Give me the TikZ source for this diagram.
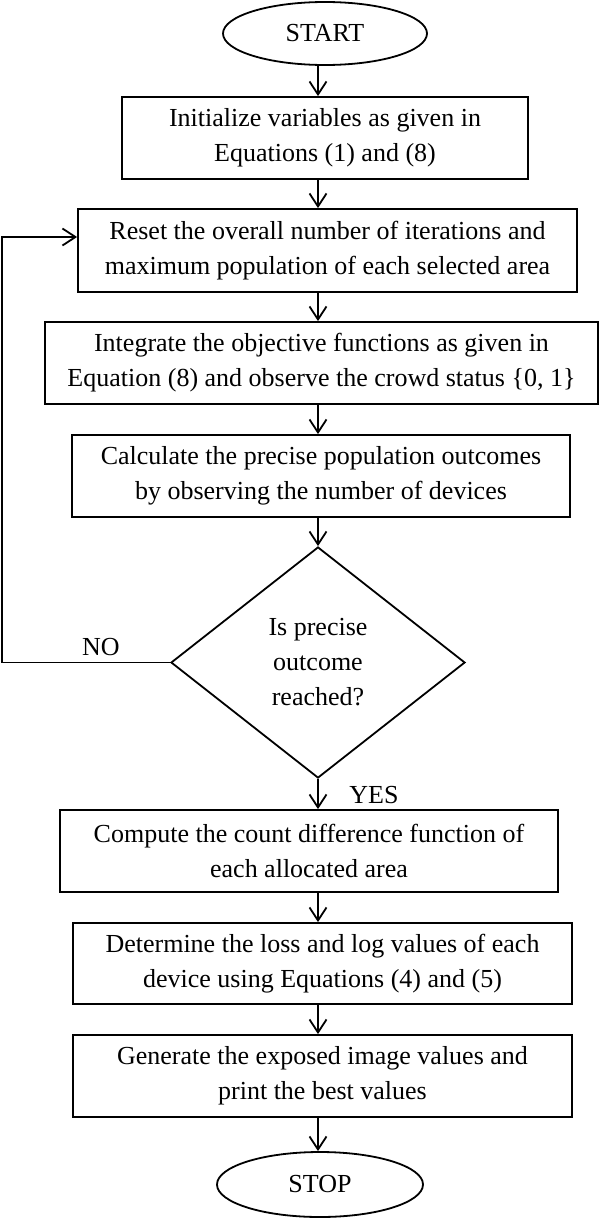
\documentclass[tikz,border=0pt]{standalone}
\usepackage{fontspec}
\setmainfont{Liberation Serif}
\usetikzlibrary{shapes.geometric,arrows.meta}

\begin{document}
\begin{tikzpicture}[x=1pt, y=-1pt,
    every node/.style={font=\fontsize{26}{35}\selectfont},
    procbox/.style={rectangle, draw, line width=1.8pt, align=center, inner sep=0pt},
    terminal/.style={ellipse, draw, line width=1.8pt, inner sep=0pt},
    decision/.style={diamond, draw, line width=1.8pt, align=center, inner sep=0pt},
    flowarrow/.style={line width=1.8pt, -{Straight Barb[length=13pt, width=17pt, line width=1.8pt]}}]
    \useasboundingbox (0,0) rectangle (600,1218);
    \coordinate (axis) at (318,0);
    \coordinate (loop) at (2,237);

    \node[terminal, minimum width=204pt, minimum height=63pt] (start) at (325,33.5) {START};
    \node[procbox, minimum width=406pt, minimum height=82pt] (init) at (325,138) {Initialize variables as given in\\Equations (1) and (8)};
    \node[procbox, minimum width=499pt, minimum height=83pt] (reset) at (327.5,250.5) {Reset the overall number of iterations and\\maximum population of each selected area};
    \node[procbox, minimum width=553pt, minimum height=82pt] (integrate) at (321.5,363) {Integrate the objective functions as given in\\Equation (8) and observe the crowd status \{0, 1\}};
    \node[procbox, minimum width=498pt, minimum height=82pt] (calc) at (321,476) {Calculate the precise population outcomes\\by observing the number of devices};
    \node[decision, minimum width=294pt, minimum height=231pt] (reached) at (318,662.5) {Is precise\\outcome\\reached?};
    \node[procbox, minimum width=498pt, minimum height=82pt] (compute) at (309,851) {Compute the count difference function of\\each allocated area};
    \node[procbox, minimum width=499pt, minimum height=81pt] (determine) at (322.5,963.5) {Determine the loss and log values of each\\device using Equations (4) and (5)};
    \node[procbox, minimum width=499pt, minimum height=82pt] (generate) at (322.5,1076) {Generate the exposed image values and\\print the best values};
    \node[terminal, minimum width=206pt, minimum height=65pt] (stop) at (320,1184.5) {STOP};

    \node (nolabel) at (101,647) {NO};
    \node (yeslabel) at (374,795) {YES};

    \draw[flowarrow] (start.south -| axis) -- (init.north -| axis);
    \draw[flowarrow] (init.south -| axis) -- (reset.north -| axis);
    \draw[flowarrow] (reset.south -| axis) -- (integrate.north -| axis);
    \draw[flowarrow] (integrate.south -| axis) -- (calc.north -| axis);
    \draw[flowarrow] (calc.south -| axis) -- (reached.north);
    \draw[flowarrow] (reached.south) -- (compute.north -| axis);
    \draw[flowarrow] (compute.south -| axis) -- (determine.north -| axis);
    \draw[flowarrow] (determine.south -| axis) -- (generate.north -| axis);
    \draw[flowarrow] (generate.south -| axis) -- (stop.north -| axis);
    \draw[flowarrow] (reached.west) -- (reached.west -| loop) -- (loop) -- (reset.west |- loop);
\end{tikzpicture}
\end{document}
